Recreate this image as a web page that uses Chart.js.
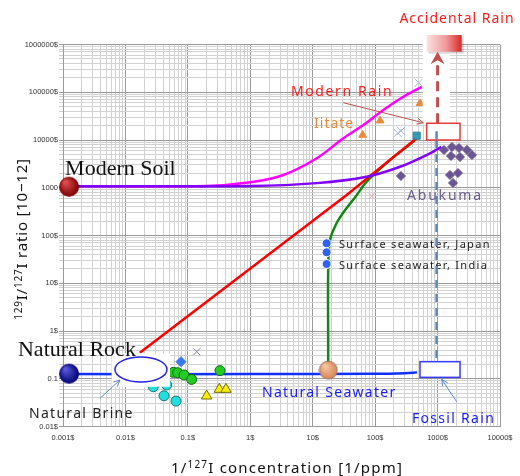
<!DOCTYPE html>
<html>
<head>
<meta charset="utf-8">
<script src="https://cdn.jsdelivr.net/npm/chart.js@4.4.0/dist/chart.umd.min.js"></script>
<style>
  html, body { margin: 0; padding: 0; background: #fff; }
  #wrap { width: 520px; height: 476px; position: relative; }
</style>
</head>
<body>
<div id="wrap"><canvas id="c"></canvas></div>
<script>
// tick labels, one per decade
var xTickLabels = ["0.001$", "0.01$", "0.1$", "1$", "10$", "100$", "1000$", "10000$"];
var yTickLabels = ["0.01$", "0.1", "1$", "10$", "100$", "1000", "10000$", "100000$", "1000000$"];

// mixing curves  (x = 1/ppm, y = 129I/127I ratio)
var seaLineX = [0.00125, 1, 100, 300, 470];
var seaLineY = [0.125, 0.125, 0.127, 0.131, 0.136];
var soilLineX = [0.00125, 1, 11.6, 73, 250, 757, 1150];
var soilLineY = [1080, 1090, 1250, 1700, 2750, 5260, 7200];
var iitateLineX = [0.00125, 0.2, 1, 3.4, 11.6, 31, 65, 135, 283, 557];
var iitateLineY = [1080, 1090, 1300, 1850, 4140, 10900, 20600, 42500, 80700, 130000];
var brineLineX = [0.017, 35, 463];
var brineLineY = [0.35, 705, 10900];
var seaMixX = [17.7, 17.7, 17.7, 18.9, 24.2, 30.6, 50.6, 73, 173, 435, 465];
var seaMixY = [0.15, 0.5, 19, 80, 183, 296, 700, 1340, 3810, 10000, 12300];

// samples
var greenX = [0.0585, 0.0687, 0.0867, 0.115, 0.327];
var greenY = [0.136, 0.134, 0.12, 0.097, 0.148];
var cyanX = [0.0279, 0.0458, 0.0415, 0.0646];
var cyanY = [0.068, 0.074, 0.044, 0.034];
var yellowX = [0.2, 0.319, 0.408];
var yellowY = [0.0435, 0.06, 0.06];
var blueDiaX = [0.0776];
var blueDiaY = [0.228];
var greyCrossX = [0.139];
var greyCrossY = [0.368];
var iitateX = [63, 120, 523];
var iitateY = [12700, 25400, 58700];
var rainCrossX = [230, 260, 499];
var rainCrossY = [14000, 15500, 158000];
var pinkCrossX = [88];
var pinkCrossY = [668];
var tealX = [463];
var tealY = [12300];
var abukumaX = [259, 1268, 1702, 2203, 2958, 3556, 1641, 2286, 1581, 2123, 1766];
var abukumaY = [1763, 6180, 7130, 6800, 6180, 4850, 4620, 4400, 1850, 2036, 1259];
var surfaceX = [16.7, 16.7, 16.7];
var surfaceY = [68.7, 44.5, 25.3];
var soilX = [0.00125], soilY = [1050];
var rockX = [0.00125], rockY = [0.128];
var seawaterX = [17.8], seawaterY = [0.152];

function pts(xs, ys) {
  return xs.map(function (x, i) { return { x: x, y: ys[i] }; });
}

function ball(r, light, dark, edge) {
  var c = document.createElement("canvas");
  c.width = c.height = 2 * r + 2;
  var g = c.getContext("2d");
  var grad = g.createRadialGradient(r * 0.7, r * 0.6, 1, r + 1, r + 1, r);
  grad.addColorStop(0, light);
  grad.addColorStop(1, dark);
  g.fillStyle = grad;
  g.beginPath();
  g.arc(r + 1, r + 1, r, 0, Math.PI * 2);
  g.fill();
  if (edge) { g.strokeStyle = edge; g.lineWidth = 1; g.stroke(); }
  return c;
}

function logTicks(e0, e1) {
  var t = [];
  for (var e = e0; e < e1; e++) {
    for (var m = 1; m < 10; m++) t.push({ value: parseFloat((m * Math.pow(10, e)).toPrecision(3)) });
  }
  t.push({ value: Math.pow(10, e1) });
  return t;
}
function isDecade(v) {
  var l = Math.log10(v);
  return Math.abs(l - Math.round(l)) < 1e-9;
}

function curve(data, color) {
  return { data: data, showLine: true, borderColor: color, borderWidth: 2.5, pointRadius: 0, tension: 0.35, fill: false, order: 10 };
}
function marks(data, style, fill, edge, r, extra) {
  var d = { data: data, pointStyle: style, pointRadius: r, backgroundColor: fill, borderColor: edge, borderWidth: 1, showLine: false, order: 1 };
  for (var k in extra) d[k] = extra[k];
  return d;
}

// annotation helpers
function drawArrow(ctx, x0, y0, x1, y1, color) {
  ctx.save();
  ctx.strokeStyle = color;
  ctx.lineWidth = 1;
  ctx.beginPath(); ctx.moveTo(x0, y0); ctx.lineTo(x1, y1); ctx.stroke();
  var a = Math.atan2(y1 - y0, x1 - x0);
  ctx.beginPath();
  ctx.moveTo(x1 - 7 * Math.cos(a - 0.45), y1 - 7 * Math.sin(a - 0.45));
  ctx.lineTo(x1, y1);
  ctx.lineTo(x1 - 7 * Math.cos(a + 0.45), y1 - 7 * Math.sin(a + 0.45));
  ctx.stroke();
  ctx.restore();
}
function drawRich(ctx, runs, x, y, size, supSize) {
  var w = 0;
  runs.forEach(function (r) {
    ctx.font = (r.sup ? supSize : size) + "px 'Noto Sans', sans-serif";
    r.w = ctx.measureText(r.t).width;
    w += r.w;
  });
  var cx = x - w / 2;
  runs.forEach(function (r) {
    ctx.font = (r.sup ? supSize : size) + "px 'Noto Sans', sans-serif";
    ctx.fillText(r.t, cx, r.sup ? y - 5 : y);
    cx += r.w;
  });
}

var labels = [
  { t: "Accidental Rain", x: 2047, y: 2.82e6, color: "#ff1a1a", size: 14, sp: 1, align: "center" },
  { t: "Modern Rain", x: 4.49, y: 84900, color: "#ff1a1a", size: 14, sp: 1.6, align: "left" },
  { t: "Iitate", x: 10.5, y: 17600, color: "#ec8a3c", size: 14, sp: 1, align: "left" },
  { t: "Abukuma", x: 324, y: 554, color: "#6b5b8c", size: 14, sp: 1.8, align: "left" },
  { t: "Natural Brine", x: 2.85e-4, y: 0.0151, color: "#222", size: 14, sp: 1.3, align: "left" },
  { t: "Natural Seawater", x: 1.54, y: 0.0421, color: "#1a1aff", size: 14, sp: 1.3, align: "left" },
  { t: "Fossil Rain", x: 389, y: 0.0117, color: "#1a1aff", size: 14, sp: 1.3, align: "left" },
  { t: "Surface seawater, Japan", x: 26.4, y: 54, color: "#222", size: 11, sp: 1.3, align: "left" },
  { t: "Surface seawater, India", x: 26.4, y: 19.6, color: "#222", size: 11, sp: 1.3, align: "left" },
  { t: "Modern Soil", x: 0.00108, y: 1850, color: "#111", size: 22, sp: 0, align: "left", serif: true },
  { t: "Natural Rock", x: 1.9e-4, y: 0.299, color: "#111", size: 22, sp: 0, align: "left", serif: true }
];

var overlay = {
  id: "overlay",
  afterDatasetsDraw: function (chart) {
    var ctx = chart.ctx, sx = chart.scales.x, sy = chart.scales.y;
    function X(v) { return sx.getPixelForValue(v); }
    function Y(v) { return sy.getPixelForValue(v); }
    ctx.save();

    // brine box + ellipse
    ctx.fillStyle = "#fff";
    ctx.fillRect(X(0.006), Y(0.341), X(0.0517) - X(0.006), Y(0.068) - Y(0.341));
    ctx.beginPath();
    ctx.ellipse((X(0.0068) + X(0.0463)) / 2, (Y(0.285) + Y(0.0855)) / 2, (X(0.0463) - X(0.0068)) / 2, (Y(0.0855) - Y(0.285)) / 2, 0, 0, Math.PI * 2);
    ctx.strokeStyle = "#2424e0"; ctx.lineWidth = 1.5; ctx.stroke();

    // text labels
    ctx.textBaseline = "alphabetic";
    labels.forEach(function (l) {
      ctx.font = l.serif ? l.size + "px 'Liberation Serif', serif" : l.size + "px 'Noto Sans', sans-serif";
      ctx.letterSpacing = l.sp + "px";
      ctx.fillStyle = l.color;
      ctx.textAlign = l.align;
      ctx.fillText(l.t, X(l.x), Y(l.y));
    });
    ctx.letterSpacing = "0px";
    ctx.textAlign = "left";

    // white column behind the accidental rain arrow
    ctx.fillStyle = "#fff";
    ctx.fillRect(X(578), Y(1.15e6), X(1581) - X(578), Y(22400) - Y(1.15e6));

    // accidental rain box
    var ax0 = X(670), ax1 = X(2432), ay0 = Y(1.58e6), ay1 = Y(7.07e5);
    ctx.fillStyle = "rgba(0,0,0,0.15)";
    ctx.fillRect(ax0 + 2, ay0 + 2, ax1 - ax0, ay1 - ay0);
    var g = ctx.createLinearGradient(ax0, 0, ax1, 0);
    g.addColorStop(0, "#fbe1e1"); g.addColorStop(0.55, "#f29a9a"); g.addColorStop(1, "#d82828");
    ctx.fillStyle = g;
    ctx.fillRect(ax0, ay0, ax1 - ax0, ay1 - ay0);

    // red dashed arrow up
    var rx = X(1000);
    ctx.strokeStyle = "#c0504d"; ctx.lineWidth = 3; ctx.setLineDash([10, 6]);
    ctx.beginPath(); ctx.moveTo(rx, Y(22400)); ctx.lineTo(rx, Y(4.04e5)); ctx.stroke();
    ctx.setLineDash([]);
    ctx.fillStyle = "#c0504d";
    ctx.beginPath();
    ctx.moveTo(rx, Y(7.07e5)); ctx.lineTo(rx + 7, Y(4.04e5) + 1); ctx.lineTo(rx, Y(4.04e5) - 3); ctx.lineTo(rx - 7, Y(4.04e5) + 1);
    ctx.closePath(); ctx.fill();

    // blue dashed line down to fossil rain
    ctx.strokeStyle = "#5b87c5"; ctx.lineWidth = 2.5; ctx.setLineDash([8, 6]);
    ctx.beginPath(); ctx.moveTo(rx - 1, Y(10000)); ctx.lineTo(rx - 1, Y(0.228)); ctx.stroke();
    ctx.setLineDash([]);

    // modern rain box
    ctx.fillStyle = "#fff"; ctx.strokeStyle = "#e53b3b"; ctx.lineWidth = 1.5;
    ctx.fillRect(X(670), Y(22400), X(2290) - X(670), Y(10000) - Y(22400));
    ctx.strokeRect(X(670), Y(22400), X(2290) - X(670), Y(10000) - Y(22400));
    ctx.strokeStyle = "#5b87c5"; ctx.lineWidth = 2.5; ctx.setLineDash([8, 6]);
    ctx.beginPath(); ctx.moveTo(rx - 1, Y(22400) + 8); ctx.lineTo(rx - 1, Y(10000)); ctx.stroke();
    ctx.setLineDash([]);

    // fossil rain box
    ctx.fillStyle = "#fff"; ctx.strokeStyle = "#3a3aff"; ctx.lineWidth = 1.5;
    ctx.fillRect(X(523), Y(0.228), X(2290) - X(523), Y(0.107) - Y(0.228));
    ctx.strokeRect(X(523), Y(0.228), X(2290) - X(523), Y(0.107) - Y(0.228));

    // pointer arrows
    drawArrow(ctx, X(30.9), Y(60400), X(590), Y(23000), "#b85450");
    drawArrow(ctx, X(0.00392), Y(0.039), X(0.00818), Y(0.0942), "#5b87c5");
    drawArrow(ctx, X(2024), Y(0.033), X(1164), Y(0.0973), "#5b87c5");

    // axis titles
    ctx.fillStyle = "#111";
    ctx.textBaseline = "alphabetic";
    ctx.letterSpacing = "1.2px";
    drawRich(ctx, [{ t: "1/" }, { t: "127", sup: true }, { t: "I concentration [1/ppm]" }], 287, 473, 15, 10);
    ctx.letterSpacing = "0.8px";
    ctx.translate(27, 239);
    ctx.rotate(-Math.PI / 2);
    drawRich(ctx, [{ t: "129", sup: true }, { t: "I/" }, { t: "127", sup: true }, { t: "I ratio [10\u221212]" }], 0, 0, 15, 10);
    ctx.restore();
  }
};

var tickFont = { family: "'Liberation Sans', Arial, sans-serif", size: 7.5 };

new Chart(document.getElementById("c"), {
  type: "scatter",
  data: {
    datasets: [
      marks(pts(soilX, soilY), ball(10, "#e05050", "#7a0000"), "#8b0000", "#8b0000", 10, { clip: false }),
      marks(pts(rockX, rockY), ball(10, "#5a5ae0", "#000070"), "#000080", "#000080", 10, { clip: false }),
      marks(pts(seawaterX, seawaterY), ball(9, "#f6c8a0", "#d8865a", "#9a7a66"), "#e8a070", "#9a7a66", 9),
      marks(pts(surfaceX, surfaceY), "circle", "#2f62f2", "#ffffff", 4.5),
      marks(pts(abukumaX, abukumaY), "rectRot", "#6b5592", "#6b5592", 4.5),
      marks(pts(tealX, tealY), "rect", "#3a9ab5", "#2e7e95", 5),
      marks(pts(iitateX, iitateY), "triangle", "#ec8a3c", "#ec8a3c", 4.5),
      marks(pts(rainCrossX, rainCrossY), "crossRot", "#9dbbe0", "#9dbbe0", 6),
      marks(pts(pinkCrossX, pinkCrossY), "crossRot", "#e8a8a8", "#e8a8a8", 4),
      marks(pts(greenX, greenY), "circle", "#22cc22", "#166616", 5),
      marks(pts(cyanX, cyanY), "circle", "#22dede", "#157a7a", 5),
      marks(pts(yellowX, yellowY), "triangle", "#ffee00", "#6e6e00", 6),
      marks(pts(blueDiaX, blueDiaY), "rectRot", "#3a78ee", "#3a78ee", 5),
      marks(pts(greyCrossX, greyCrossY), "crossRot", "#8a80a8", "#8a80a8", 5),
      curve(pts(seaLineX, seaLineY), "#1030ff"),
      curve(pts(soilLineX, soilLineY), "#8000ff"),
      curve(pts(iitateLineX, iitateLineY), "#ff00ff"),
      Object.assign(curve(pts(brineLineX, brineLineY), "#ff0000"), { tension: 0 }),
      curve(pts(seaMixX, seaMixY), "#118811")
    ]
  },
  options: {
    responsive: true,
    maintainAspectRatio: false,
    animation: false,
    layout: { padding: { left: 0, right: 20, top: 44.5, bottom: 0 } },
    plugins: { legend: { display: false }, tooltip: { enabled: false } },
    scales: {
      x: {
        type: "logarithmic",
        min: 0.001,
        max: 10000,
        afterBuildTicks: function (s) { s.ticks = logTicks(-3, 4); },
        afterFit: function (s) { s.height = 49.5; },
        grid: {
          color: function (c) { return c.tick && isDecade(c.tick.value) ? "#9a9a9a" : "#d2d2d2"; },
          drawTicks: false
        },
        border: { color: "#9a9a9a" },
        ticks: {
          autoSkip: false, maxRotation: 0, padding: 6.5, color: "#333", font: tickFont,
          callback: function (v) { return isDecade(v) ? xTickLabels[Math.round(Math.log10(v)) + 3] : ""; }
        }
      },
      y: {
        type: "logarithmic",
        min: 0.01,
        max: 1000000,
        afterBuildTicks: function (s) { s.ticks = logTicks(-2, 6); },
        afterFit: function (s) { s.width = 63; },
        grid: {
          color: function (c) { return c.tick && isDecade(c.tick.value) ? "#9a9a9a" : "#d2d2d2"; },
          tickLength: 4
        },
        border: { color: "#9a9a9a" },
        ticks: {
          autoSkip: false, padding: 1, color: "#333", font: tickFont,
          callback: function (v) { return isDecade(v) ? yTickLabels[Math.round(Math.log10(v)) + 2] : ""; }
        }
      }
    }
  },
  plugins: [overlay]
});
</script>
</body>
</html>
